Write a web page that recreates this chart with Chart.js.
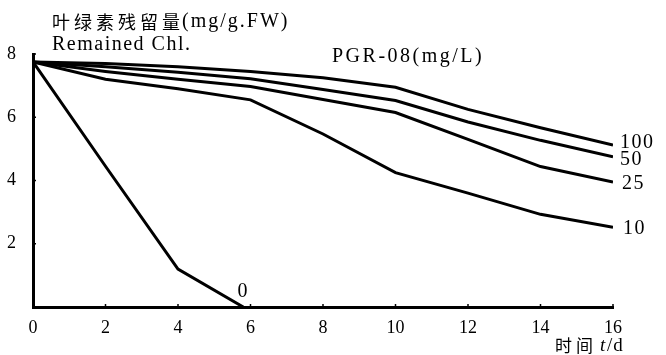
<!DOCTYPE html>
<html>
<head>
<meta charset="utf-8">
<script src="https://cdn.jsdelivr.net/npm/chart.js@4/dist/chart.umd.min.js"></script>
<style>
  html, body { margin: 0; padding: 0; background: #fff; }
  #wrap { width: 666px; height: 355px; }
</style>
</head>
<body>
<div id="wrap"><canvas id="grafico"></canvas></div>
<script>
// datos
var dias = [0, 2, 4, 6, 8, 10, 12, 14, 16];
var conc100 = [7.75, 7.7, 7.6, 7.45, 7.25, 6.95, 6.25, 5.67, 5.12];
var conc50 = [7.75, 7.6, 7.42, 7.22, 6.88, 6.53, 5.85, 5.27, 4.75];
var conc25 = [7.75, 7.45, 7.2, 6.97, 6.56, 6.15, 5.3, 4.44, 3.95];
var conc10 = [7.75, 7.2, 6.9, 6.55, 5.47, 4.25, 3.6, 2.93, 2.52];
var dias0 = [0, 2, 4, 5.8];
var conc0 = [7.75, 4.45, 1.2, 0];
var nombres = ['100', '50', '25', '10', '0'];
var ticksX = [0, 2, 4, 6, 8, 10, 12, 14, 16];
var ticksY = [2, 4, 6, 8];

var serif = '"Liberation Serif", "DejaVu Serif", serif';
var cjk = '"Noto Sans CJK SC", sans-serif';

function puntos(xs, ys) {
    return xs.map(function (x, i) { return { x: x, y: ys[i] }; });
}

// desplazamiento de las etiquetas al final de cada linea
var etiquetaOffset = [
    { dx: 7, dy: -2, align: 'left' },
    { dx: 7, dy: 3, align: 'left' },
    { dx: 9, dy: 2, align: 'left' },
    { dx: 10, dy: 1, align: 'left' },
    { dx: 0, dy: -15, align: 'center' }
];

var etiquetas = {
    id: 'etiquetas',
    afterDraw: function (chart) {
        var ctx = chart.ctx;
        var xs = chart.scales.x, ys = chart.scales.y;
        var area = chart.chartArea;
        ctx.save();
        // marcas hacia adentro
        ctx.strokeStyle = '#000';
        ctx.lineWidth = 1.5;
        ticksX.slice(1).forEach(function (v) {
            var px = xs.getPixelForValue(v);
            ctx.beginPath(); ctx.moveTo(px, area.bottom); ctx.lineTo(px, area.bottom - 3); ctx.stroke();
        });
        ticksY.forEach(function (v) {
            var py = ys.getPixelForValue(v);
            ctx.beginPath(); ctx.moveTo(area.left, py); ctx.lineTo(area.left + 3, py); ctx.stroke();
        });

        ctx.fillStyle = '#000';
        ctx.textBaseline = 'middle';
        chart.data.datasets.forEach(function (ds, i) {
            var meta = chart.getDatasetMeta(i);
            var p = meta.data[meta.data.length - 1];
            var o = etiquetaOffset[i];
            ctx.font = '20px ' + serif;
            ctx.letterSpacing = '1.5px';
            ctx.textAlign = o.align;
            ctx.fillText(ds.label, p.x + o.dx, p.y + o.dy);
        });

        // titulos
        ctx.textAlign = 'left';
        ctx.letterSpacing = '4px';
        ctx.font = '18px ' + cjk;
        ctx.fillText('叶绿素残留量', 52, 22);
        var w = ctx.measureText('叶绿素残留量').width;
        ctx.letterSpacing = '2px';
        ctx.font = '20px ' + serif;
        ctx.fillText('(mg/g.FW)', 50 + w, 22);
        ctx.letterSpacing = '1.5px';
        ctx.fillText('Remained Chl.', 52, 45);
        ctx.letterSpacing = '2.5px';
        ctx.fillText('PGR-08(mg/L)', 332, 57);

        ctx.letterSpacing = '4px';
        ctx.font = '17px ' + cjk;
        ctx.fillText('时间', 555, 346);
        var w2 = ctx.measureText('时间').width;
        ctx.letterSpacing = '1px';
        ctx.font = 'italic 19px ' + serif;
        ctx.fillText('t', 555 + w2 + 3, 346);
        ctx.font = '19px ' + serif;
        ctx.fillText('/d', 555 + w2 + 10, 346);
        ctx.restore();
    }
};

function crearGrafico() {
    var ctx = document.getElementById('grafico').getContext('2d');
    var estiloLinea = { borderColor: '#000', borderWidth: 3, pointRadius: 0, fill: false, tension: 0 };
    var series = [conc100, conc50, conc25, conc10];
    var datasets = series.map(function (s, i) {
        return Object.assign({ label: nombres[i], data: puntos(dias, s) }, estiloLinea);
    });
    datasets.push(Object.assign({ label: nombres[4], data: puntos(dias0, conc0) }, estiloLinea));

    new Chart(ctx, {
        type: 'line',
        data: { datasets: datasets },
        options: {
            responsive: true,
            maintainAspectRatio: false,
            animation: false,
            layout: { padding: { left: 0, right: 53, top: 54, bottom: 0 } },
            plugins: { legend: { display: false }, tooltip: { enabled: false } },
            scales: {
                x: {
                    type: 'linear', min: 0, max: 16,
                    afterFit: function (s) { s.height = 48; },
                    afterBuildTicks: function (s) { s.ticks = ticksX.map(function (v) { return { value: v }; }); },
                    ticks: { color: '#000', padding: 2, font: { family: serif, size: 18 }, maxRotation: 0 },
                    grid: { display: false },
                    border: { display: true, color: '#000', width: 3 }
                },
                y: {
                    min: 0, max: 8,
                    afterFit: function (s) { s.width = 33; },
                    afterBuildTicks: function (s) { s.ticks = ticksY.map(function (v) { return { value: v }; }); },
                    ticks: { color: '#000', padding: 9, font: { family: serif, size: 18 } },
                    grid: { display: false },
                    border: { display: true, color: '#000', width: 3 }
                }
            }
        },
        plugins: [etiquetas]
    });
}
crearGrafico();
</script>
</body>
</html>
